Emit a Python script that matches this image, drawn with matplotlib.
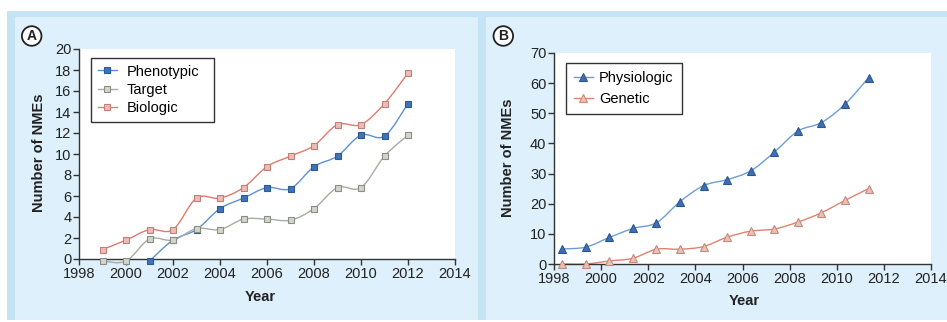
import numpy as np
import matplotlib
matplotlib.use("Agg")
import matplotlib.pyplot as plt
from matplotlib.path import Path
from matplotlib.patches import PathPatch, Rectangle
from matplotlib.lines import Line2D

plt.rcParams['font.family'] = ['Liberation Sans', 'DejaVu Sans']
plt.rcParams['font.size'] = 10.5

# Panel A: NMEs by discovery strategy (cumulative)
years_a = [1999, 2000, 2001, 2002, 2003, 2004, 2005, 2006, 2007, 2008, 2009, 2010, 2011, 2012]
phenotypic_years = [2001, 2002, 2003, 2004, 2005, 2006, 2007, 2008, 2009, 2010, 2011, 2012]
phenotypic = [-0.2, 1.8, 2.8, 4.8, 5.8, 6.8, 6.7, 8.8, 9.8, 11.8, 11.7, 14.8]
target = [-0.2, -0.2, 1.9, 1.8, 2.9, 2.8, 3.8, 3.8, 3.7, 4.8, 6.8, 6.8, 9.8, 11.8]
biologic = [0.9, 1.8, 2.8, 2.8, 5.8, 5.8, 6.8, 8.8, 9.8, 10.8, 12.8, 12.8, 14.8, 17.7]

# Panel B: NMEs by mechanism (cumulative)
years_b = [1998, 1999, 2000, 2001, 2002, 2003, 2004, 2005, 2006, 2007, 2008, 2009, 2010, 2011]
physiologic = [5, 5.6, 8.8, 11.8, 13.7, 20.7, 26, 28, 30.9, 37.1, 44.1, 46.9, 53, 61.8]
genetic = [0, 0, 1, 1.9, 4.9, 4.9, 5.8, 8.9, 10.9, 11.6, 13.9, 17, 21.1, 25]

W, H = 947, 322


def smooth_line(ax, x, y, color, lw=1.0):
    # smoothed connector (cubic Bezier through every point)
    x = np.asarray(x, float)
    y = np.asarray(y, float)
    n = len(x)
    verts = [(x[0], y[0])]
    codes = [Path.MOVETO]
    for i in range(n - 1):
        p0 = np.array([x[max(i - 1, 0)], y[max(i - 1, 0)]])
        p1 = np.array([x[i], y[i]])
        p2 = np.array([x[i + 1], y[i + 1]])
        p3 = np.array([x[min(i + 2, n - 1)], y[min(i + 2, n - 1)]])
        c1 = p1 + (p2 - p0) / 6.0
        c2 = p2 - (p3 - p1) / 6.0
        verts += [tuple(c1), tuple(c2), tuple(p2)]
        codes += [Path.CURVE4] * 3
    patch = PathPatch(Path(verts, codes), fc='none', ec=color, lw=lw,
                      transform=ax.transData, clip_on=False, zorder=2)
    ax.add_patch(patch)


def style_axes(ax):
    for s in ['top', 'right']:
        ax.spines[s].set_visible(False)
    for s in ['left', 'bottom']:
        ax.spines[s].set_color('#333333')
        ax.spines[s].set_linewidth(1.0)
    ax.tick_params(direction='out', length=4, width=1.0, color='#333333',
                   labelcolor='#222222', labelsize=10.5, pad=1.5)
    ax.set_facecolor('white')


fig = plt.figure(figsize=(W / 100, H / 100), dpi=100)
fig.patch.set_facecolor('white')

# background frame
def px_rect(x0, y0, x1, y1, color):
    fig.add_artist(Rectangle((x0 / W, 1 - y1 / H), (x1 - x0) / W, (y1 - y0) / H,
                             transform=fig.transFigure, fc=color, ec='none', zorder=-10))

px_rect(7, 11, 947, 320, '#c4e4f6')
px_rect(15, 17, 478, 320, '#ddf0fb')
px_rect(486, 17, 947, 320, '#ddf0fb')

# ---- Panel A ----
axA = fig.add_axes([79 / W, 63 / H, 376 / W, 210 / H])
style_axes(axA)
axA.set_xlim(1998, 2014)
axA.set_ylim(0, 20)
axA.set_xticks(range(1998, 2015, 2))
axA.set_yticks(range(0, 21, 2))

series_a = [
    ('Phenotypic', phenotypic_years, phenotypic, '#5d91d2', '#3f74b8', '#2d5a95'),
    ('Target', years_a, target, '#a7aca4', '#d3d4cc', '#8b8e87'),
    ('Biologic', years_a, biologic, '#e07a6c', '#ecbdb5', '#c08078'),
]
handles = []
for name, xs, ys, lc, fc, ec in series_a:
    smooth_line(axA, xs, ys, lc)
    axA.plot(xs, ys, ls='none', marker='s', ms=5, mfc=fc, mec=ec, mew=0.8,
             clip_on=False, zorder=3)
    handles.append(Line2D([], [], color=lc, lw=1.0, marker='s', ms=5,
                          mfc=fc, mec=ec, mew=0.8, label=name))
legA = axA.legend(handles=handles, loc='upper left', mode='expand',
                  bbox_to_anchor=(0.032, 0.0, 0.327, 0.957),
                  borderaxespad=0, fancybox=False, edgecolor='#333333',
                  framealpha=1, handlelength=1.35, handletextpad=0.65,
                  labelspacing=0.3, borderpad=0.45, fontsize=10.5)
legA.get_frame().set_linewidth(1.0)

# ---- Panel B ----
axB = fig.add_axes([554 / W, 58 / H, 377 / W, 211 / H])
style_axes(axB)
axB.set_xlim(1998, 2014)
axB.set_ylim(0, 70)
axB.set_xticks(range(1998, 2015, 2))
axB.set_yticks(range(0, 71, 10))

xb = [y + 0.35 for y in years_b]
series_b = [
    ('Physiologic', physiologic, '#6b9ed8', '#3f6fb5', '#2c5590'),
    ('Genetic', genetic, '#e08270', '#eec0b4', '#c48a80'),
]
handles = []
for name, ys, lc, fc, ec in series_b:
    smooth_line(axB, xb, ys, lc)
    axB.plot(xb, ys, ls='none', marker='^', ms=5.8, mfc=fc, mec=ec, mew=0.8,
             clip_on=False, zorder=3)
    handles.append(Line2D([], [], color=lc, lw=1.0, marker='^', ms=5.8,
                          mfc=fc, mec=ec, mew=0.8, label=name))
legB = axB.legend(handles=handles, loc='upper left', mode='expand',
                  bbox_to_anchor=(0.031, 0.0, 0.308, 0.951),
                  borderaxespad=0, fancybox=False, edgecolor='#333333',
                  framealpha=1, handlelength=1.3, handletextpad=0.45,
                  labelspacing=0.45, borderpad=0.55, fontsize=10.5)
legB.get_frame().set_linewidth(1.0)

# axis titles
fig.text(39 / W, 1 - 153 / H, 'Number of NMEs', rotation=90, ha='center', va='center',
         fontweight='bold', fontsize=10.5, color='#222222')
fig.text(260 / W, 1 - 297 / H, 'Year', ha='center', va='center',
         fontweight='bold', fontsize=10.5, color='#222222')
fig.text(508 / W, 1 - 158 / H, 'Number of NMEs', rotation=90, ha='center', va='center',
         fontweight='bold', fontsize=10.5, color='#222222')
fig.text(744 / W, 1 - 301 / H, 'Year', ha='center', va='center',
         fontweight='bold', fontsize=10.5, color='#222222')

# panel letters
for xp, letter in [(31.7, 'A'), (503.3, 'B')]:
    fig.text(xp / W, 1 - 36 / H, letter, ha='center', va='center', fontweight='bold',
             fontsize=10, color='#222222',
             bbox=dict(boxstyle='circle,pad=0.2', fc='white', ec='#222222', lw=1.3))

fig.savefig('out.png', dpi=100, facecolor=fig.get_facecolor())
